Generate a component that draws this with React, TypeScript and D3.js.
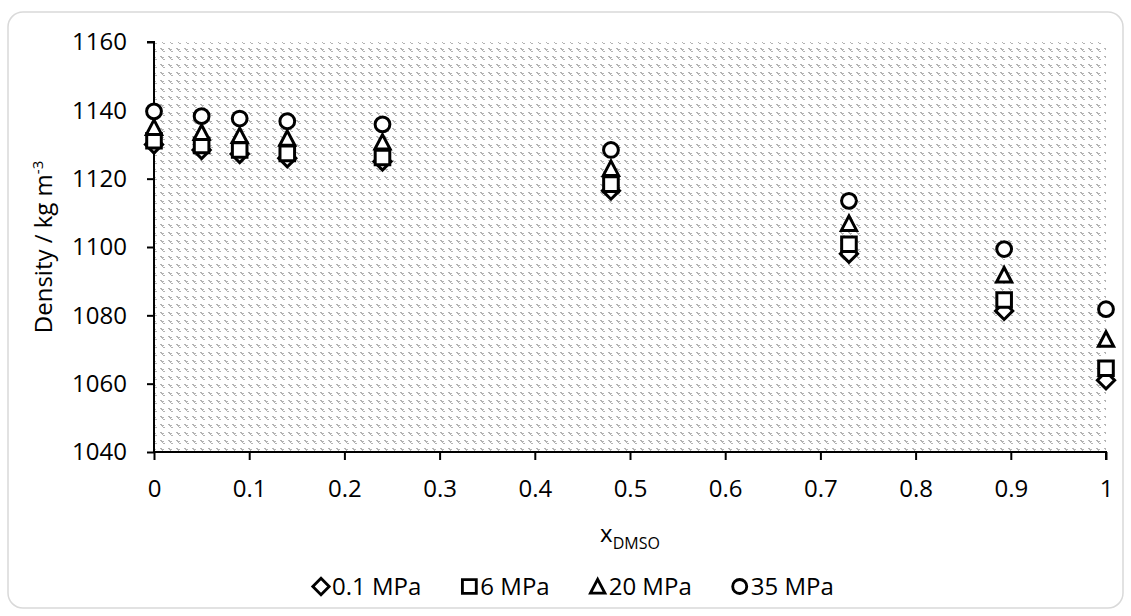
import React, { useRef, useEffect } from 'react'
import * as d3 from 'd3'

// x_DMSO mole fractions
const xDmso = [0, 0.05, 0.09, 0.14, 0.24, 0.48, 0.73, 0.893, 1]

// densities / kg m-3, one list per pressure
const p01 = [1130, 1128.4, 1127.2, 1126, 1125, 1116.5, 1098, 1081.3, 1061]
const p6 = [1131.1, 1129.7, 1128.4, 1127.4, 1126.2, 1118.4, 1100.8, 1084.5, 1064.5]
const p20 = [1135, 1133.5, 1132.6, 1131.8, 1130.7, 1123, 1106.9, 1091.8, 1073]
const p35 = [1139.7, 1138.3, 1137.6, 1136.8, 1135.9, 1128.4, 1113.5, 1099.4, 1081.8]

const seriesNames = ['0.1 MPa', '6 MPa', '20 MPa', '35 MPa']
const seriesShapes = ['diamond', 'square', 'triangle', 'circle']
const seriesValues = [p01, p6, p20, p35]

const yTicks = [1040, 1060, 1080, 1100, 1120, 1140, 1160]
const xTicks = [0, 0.1, 0.2, 0.3, 0.4, 0.5, 0.6, 0.7, 0.8, 0.9, 1]

// little gray dots of the excel pattern fill, 8x8 tile
const hatchDots = [
  [0, 0], [1, 0], [1, 1], [2, 1], [3, 1], [2, 2], [3, 3], [4, 3]
]

const FONT = "'Open Sans', 'Noto Sans', sans-serif"

// marker outline centred on 0,0
const markerPath = (shape: string) => {
  const p = d3.path()
  if (shape === 'circle') {
    p.arc(0, 0, 7.4, 0, Math.PI * 2)
  } else if (shape === 'square') {
    p.rect(-7.3, -7.3, 14.6, 14.6)
  } else if (shape === 'triangle') {
    p.moveTo(0, -7.5)
    p.lineTo(7.6, 7)
    p.lineTo(-7.6, 7)
    p.closePath()
  } else {
    p.moveTo(0, -8.6)
    p.lineTo(8.6, 0)
    p.lineTo(0, 8.6)
    p.lineTo(-8.6, 0)
    p.closePath()
  }
  return p.toString()
}

export default function App() {
  const ref = useRef<SVGSVGElement>(null)

  useEffect(() => {
    if (!ref.current) return
    const svg = d3.select(ref.current)
    svg.selectAll('*').remove()

    const width = 1131
    const height = 616
    const margin = { top: 42, right: 25, bottom: 164, left: 154 }

    const x = d3
      .scaleLinear()
      .domain([0, 1])
      .range([margin.left, width - margin.right])
    const y = d3
      .scaleLinear()
      .domain([1040, 1160])
      .range([height - margin.bottom, margin.top])

    // chart border
    svg
      .append('rect')
      .attr('x', 8)
      .attr('y', 12)
      .attr('width', 1115)
      .attr('height', 596)
      .attr('rx', 15)
      .attr('fill', 'white')
      .attr('stroke', '#d9d9d9')
      .attr('stroke-width', 1.5)

    // pattern fill for the plot area
    const pat = svg
      .append('defs')
      .append('pattern')
      .attr('id', 'hatch')
      .attr('patternUnits', 'userSpaceOnUse')
      .attr('width', 8)
      .attr('height', 8)
    pat.append('rect').attr('width', 8).attr('height', 8).attr('fill', 'white')
    pat
      .selectAll('rect.dot')
      .data(hatchDots)
      .join('rect')
      .attr('class', 'dot')
      .attr('x', d => d[0])
      .attr('y', d => d[1])
      .attr('width', 1)
      .attr('height', 1)
      .attr('fill', '#b3b3b3')

    svg
      .append('rect')
      .attr('x', x(0))
      .attr('y', y(1160))
      .attr('width', x(1) - x(0))
      .attr('height', y(1040) - y(1160))
      .attr('fill', 'url(#hatch)')
      .attr('shape-rendering', 'crispEdges')

    // axes
    const yAxis = svg
      .append('g')
      .attr('transform', `translate(${x(0)},0)`)
      .call(
        d3
          .axisLeft(y)
          .tickValues(yTicks)
          .tickSize(7)
          .tickPadding(20)
          .tickFormat(d3.format('d'))
      )
    const xAxis = svg
      .append('g')
      .attr('transform', `translate(0,${y(1040)})`)
      .call(
        d3
          .axisBottom(x)
          .tickValues(xTicks)
          .tickSize(8)
          .tickSizeOuter(8)
          .tickPadding(20)
          .tickFormat(d => (d === 0 || d === 1 ? String(d) : d3.format('.1f')(d as number)))
      )
    ;[yAxis, xAxis].forEach(g => {
      g.selectAll('path, line').attr('stroke', '#000').attr('stroke-width', 2)
      g.selectAll('text')
        .attr('fill', '#000')
        .style('font-family', FONT)
        .style('font-size', '24px')
    })
    yAxis.select('path').attr('d', `M-7,${y(1160)}H0V${y(1040)}`)
    xAxis.select('path').attr('d', `M${x(0)},0H${x(1)}V8`)

    // axis titles
    const yTitle = svg
      .append('text')
      .attr('transform', `translate(52,${(y(1040) + y(1160)) / 2}) rotate(-90)`)
      .attr('text-anchor', 'middle')
      .style('font-family', FONT)
      .style('font-size', '24px')
    yTitle.append('tspan').text('Density / kg m')
    yTitle
      .append('tspan')
      .attr('dy', -9)
      .style('font-size', '15px')
      .text('-3')

    const xTitle = svg
      .append('text')
      .attr('x', (x(0) + x(1)) / 2)
      .attr('y', 542)
      .attr('text-anchor', 'middle')
      .style('font-family', FONT)
      .style('font-size', '24px')
    xTitle.append('tspan').text('x')
    xTitle
      .append('tspan')
      .attr('dy', 7)
      .style('font-size', '16px')
      .text('DMSO')

    // data markers, first series drawn first
    seriesValues.forEach((vals, i) => {
      svg
        .append('g')
        .selectAll('path')
        .data(vals)
        .join('path')
        .attr('d', markerPath(seriesShapes[i]))
        .attr('transform', (d, j) => `translate(${x(xDmso[j])},${y(d)})`)
        .attr('fill', 'white')
        .attr('stroke', '#000')
        .attr('stroke-width', 3)
        .attr('stroke-linejoin', 'miter')
    })

    // legend
    const legend = svg.append('g')
    let cursor = 312
    seriesNames.forEach((name, i) => {
      const item = legend.append('g')
      item
        .append('path')
        .attr('d', markerPath(seriesShapes[i]))
        .attr('transform', `translate(${cursor + 9},586.5) scale(0.95)`)
        .attr('fill', 'white')
        .attr('stroke', '#000')
        .attr('stroke-width', 3)
      const t = item
        .append('text')
        .attr('x', cursor + 20)
        .attr('y', 595)
        .style('font-family', FONT)
        .style('font-size', '24px')
        .text(name)
      const w = (t.node() as SVGTextElement).getComputedTextLength()
      cursor += 20 + w + 39
    })
  }, [])

  return (
    <svg
      ref={ref}
      width={1131}
      height={616}
      style={{ position: 'absolute', left: 0, top: 0, display: 'block' }}
    />
  )
}
